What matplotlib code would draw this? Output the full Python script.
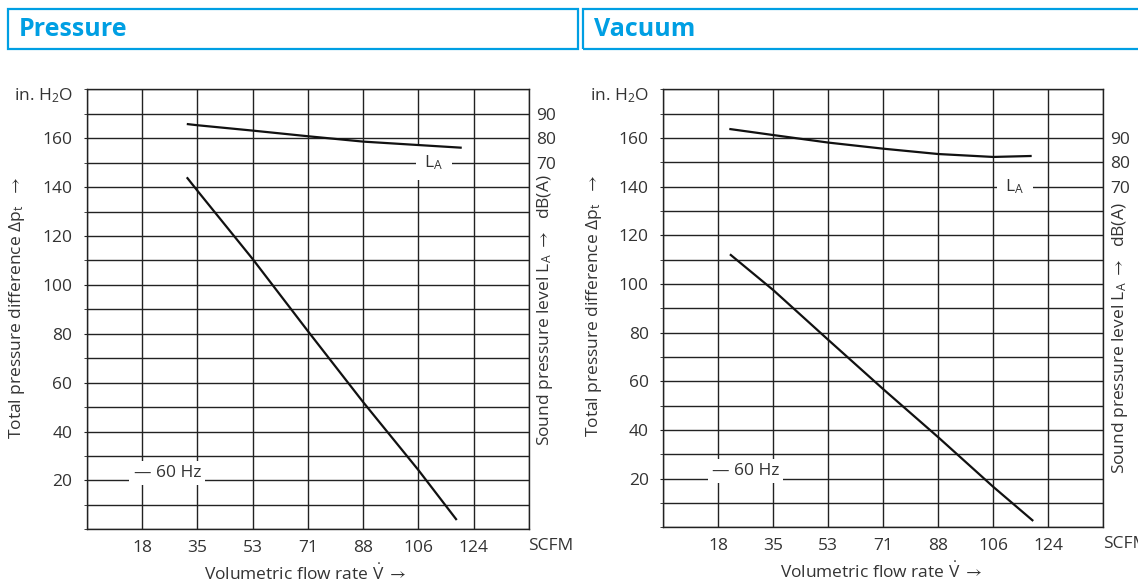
import matplotlib
matplotlib.use('Agg')
import matplotlib.pyplot as plt
from matplotlib.patches import Rectangle

plt.rcParams['font.family'] = ['Open Sans', 'DejaVu Sans']
plt.rcParams['mathtext.fontset'] = 'custom'
plt.rcParams['mathtext.rm'] = 'Open Sans'
plt.rcParams['mathtext.it'] = 'Open Sans:italic'
plt.rcParams['mathtext.bf'] = 'Open Sans:bold'
plt.rcParams['mathtext.fallback'] = 'stixsans'

# x-Achse: SCFM (Gitter in Schritten von 30 m³/h)
flow_max = 141.3
flow_grid = [0, 17.7, 35.3, 53.0, 70.6, 88.3, 105.9, 123.6, 141.3]
flow_ticks = [17.7, 35.3, 53.0, 70.6, 88.3, 105.9, 123.6]
flow_labels = ['18', '35', '53', '71', '88', '106', '124']
dp_ticks = [20, 40, 60, 80, 100, 120, 140, 160]
la_ticks = [70, 80, 90]

# Pressure
p_flow = [31.9, 35.3, 53.0, 70.6, 88.3, 105.9, 118.2]
p_dp = [144.0, 138.5, 110.5, 81.1, 52.0, 24.3, 3.8]
p_la_flow = [31.9, 35.3, 53.0, 70.6, 88.3, 105.9, 119.8]
p_la = [85.8, 85.3, 83.1, 80.8, 78.6, 77.2, 76.1]

# Vacuum
v_flow = [21.4, 35.3, 53.0, 70.6, 88.3, 105.9, 118.8]
v_dp = [112.2, 97.5, 77.0, 56.8, 37.0, 16.7, 2.6]
v_la_flow = [21.2, 35.3, 53.0, 70.6, 88.3, 105.9, 118.3]
v_la = [93.7, 91.2, 88.1, 85.6, 83.4, 82.2, 82.6]

TXT = '#333333'
GRID = '#222222'
CYAN = '#009FE3'
FS = 12.5
W, H = 1138, 583


def draw_panel(ax, flow, dp, la_flow, la, la_offset, la_label_pos, hz_label_pos):
    ax.set_xlim(0, flow_max)
    ax.set_ylim(0, 180)
    ax.set_xticks(flow_grid, minor=True)
    ax.set_yticks(range(0, 181, 10), minor=True)
    ax.grid(True, which='both', color=GRID, linewidth=1.0)
    ax.set_xticks(flow_ticks)
    ax.set_xticklabels(flow_labels)
    ax.set_yticks(dp_ticks)
    ax.tick_params(axis='x', which='both', length=0, pad=8, labelsize=FS, labelcolor=TXT)
    ax.tick_params(axis='y', which='both', length=2, direction='out', color=GRID,
                   pad=8.5, labelsize=FS, labelcolor=TXT)
    for s in ax.spines.values():
        s.set_color(GRID)
        s.set_linewidth(1.0)
    ax.set_axisbelow(True)

    ax.plot(flow, dp, color='#111111', linewidth=1.6, solid_capstyle='butt')

    ax.text(-0.032, 0.985, 'in. H$_2$O', transform=ax.transAxes, ha='right',
            va='center', fontsize=FS, color=TXT)
    ax.text(1.05, -0.038, 'SCFM', transform=ax.transAxes, ha='center',
            va='center', fontsize=FS, color=TXT, clip_on=False)
    ax.text(hz_label_pos[0], hz_label_pos[1], '\u2014 60 Hz', ha='center', va='center',
            fontsize=FS, color=TXT, zorder=5,
            bbox=dict(facecolor='white', edgecolor='none', pad=3))
    ax.text(la_label_pos[0], la_label_pos[1], 'L$_\\mathrm{A}$', ha='center', va='center',
            fontsize=FS, color=TXT, zorder=5,
            bbox=dict(facecolor='white', edgecolor='none', pad=6))

    # Schalldruckpegel auf zweiter Achse (dB(A))
    tw = ax.twinx()
    tw.set_ylim(-la_offset, 180 - la_offset)
    tw.set_yticks(la_ticks)
    tw.tick_params(length=0, pad=5, labelsize=FS, labelcolor=TXT)
    for s in tw.spines.values():
        s.set_visible(False)
    tw.plot(la_flow, la, color='#111111', linewidth=1.6, solid_capstyle='butt')
    return tw


fig = plt.figure(figsize=(W / 100, H / 100), dpi=100)

ax1 = fig.add_axes([87 / W, 1 - 529.3 / H, 442 / W, 440 / H])
ax2 = fig.add_axes([663.3 / W, 1 - 527.3 / H, 440 / W, 438 / H])

draw_panel(ax1, p_flow, p_dp, p_la_flow, p_la, 80, (110.9, 150), (25.7, 23.0))
draw_panel(ax2, v_flow, v_dp, v_la_flow, v_la, 70, (112.9, 140), (26.4, 23.2))

# Kopfzeilen
for x0, x1, title in [(8, 578, 'Pressure'), (583, 1145, 'Vacuum')]:
    fig.patches.append(Rectangle((x0 / W, 1 - 49 / H), (x1 - x0) / W, 40 / H,
                                 transform=fig.transFigure, fill=False,
                                 edgecolor=CYAN, linewidth=1.6))
    fig.text((x0 + 11) / W, 1 - 30 / H, title, ha='left', va='center',
             fontsize=18, fontweight='bold', color=CYAN)

# Achsenbeschriftungen
ylab_l = 'Total pressure difference \u0394p$_\\mathrm{t}$  $\\rightarrow$'
ylab_r = 'Sound pressure level L$_\\mathrm{A}$ $\\rightarrow$  dB(A)'
xlab = 'Volumetric flow rate $\\dot{\\mathrm{V}}$ $\\rightarrow$'
fig.text(17 / W, 1 - 308 / H, ylab_l, rotation=90, ha='center', va='center',
         fontsize=FS, color=TXT)
fig.text(594 / W, 1 - 306 / H, ylab_l, rotation=90, ha='center', va='center',
         fontsize=FS, color=TXT)
fig.text(545 / W, 1 - 175 / H, ylab_r, rotation=90, ha='center', va='top',
         fontsize=FS, color=TXT)
fig.text(1120 / W, 1 - 203 / H, ylab_r, rotation=90, ha='center', va='top',
         fontsize=FS, color=TXT)
fig.text(305 / W, 1 - 574 / H, xlab, ha='center', va='center', fontsize=FS, color=TXT)
fig.text(881 / W, 1 - 572 / H, xlab, ha='center', va='center', fontsize=FS, color=TXT)

fig.savefig('out.png', dpi=100)
